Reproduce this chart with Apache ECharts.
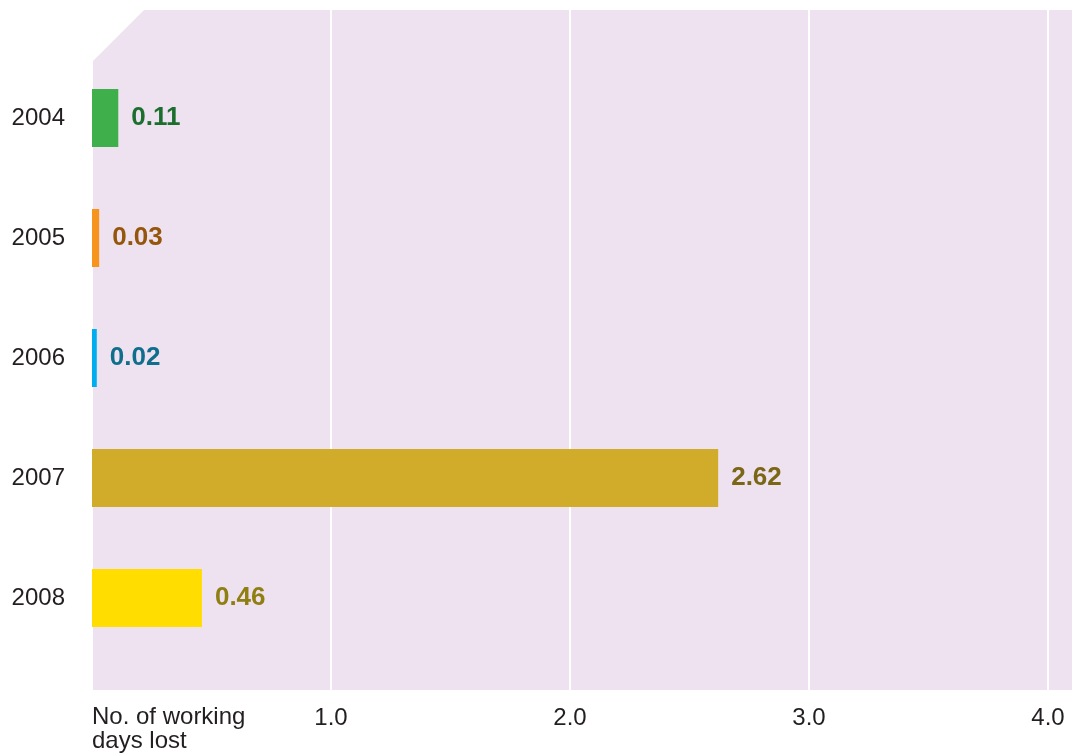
<!DOCTYPE html>
<html>
<head>
<meta charset="utf-8">
<script src="https://cdn.jsdelivr.net/npm/echarts@6/dist/echarts.min.js"></script>
<style>
html,body{margin:0;padding:0;background:#fff;}
#chart{width:1073px;height:756px;}
</style>
</head>
<body>
<div id="chart"></div>
<script>
const years = ['2004', '2005', '2006', '2007', '2008'];
const daysLost = [0.11, 0.03, 0.02, 2.62, 0.46];
const barColors = ['#3EAF4A', '#F7941D', '#00AEEF', '#D1AC2A', '#FFDD00'];
const labelColors = ['#1B6E2E', '#94560B', '#0F6E8C', '#7A6614', '#8F7E10'];
const xTicks = [1, 2, 3, 4];
const axisTitle = 'No. of working\ndays lost';

const textColor = '#231F20';
const fontFam = '"Liberation Sans", Arial, Helvetica, sans-serif';

const chart = echarts.init(document.getElementById('chart'));
chart.setOption({
  animation: false,
  backgroundColor: '#ffffff',
  graphic: [
    {
      type: 'polygon',
      z: -10,
      silent: true,
      shape: { points: [[92, 62], [144, 10], [1072, 10], [1072, 690], [92, 690]] },
      style: { fill: '#EEE2F0' }
    },
    {
      type: 'text',
      left: 92,
      top: 705,
      style: {
        text: axisTitle,
        font: '24px ' + fontFam,
        fill: textColor,
        lineHeight: 24
      }
    }
  ],
  grid: [
    { left: 92, top: 10, width: 956, height: 680, containLabel: false },
    { left: 92, top: 58, width: 956, height: 600, containLabel: false }
  ],
  xAxis: [
    {
      gridIndex: 0,
      type: 'value',
      min: 0,
      max: 4,
      interval: 1,
      axisLine: { show: false },
      axisTick: { show: false },
      splitLine: { show: true, lineStyle: { color: '#ffffff', width: 2 } },
      axisLabel: {
        margin: 16,
        fontSize: 24,
        fontFamily: fontFam,
        color: textColor,
        formatter: function (v) {
          return xTicks.indexOf(v) >= 0 ? v.toFixed(1) : '';
        }
      }
    },
    {
      gridIndex: 1,
      type: 'value',
      min: 0,
      max: 4,
      show: false
    }
  ],
  yAxis: [
    { gridIndex: 0, type: 'value', show: false },
    {
      gridIndex: 1,
      type: 'category',
      inverse: true,
      data: years,
      axisLine: { show: false },
      axisTick: { show: false },
      splitLine: { show: false },
      axisLabel: {
        margin: 27,
        fontSize: 24,
        fontFamily: fontFam,
        color: textColor
      }
    }
  ],
  series: [
    {
      type: 'bar',
      xAxisIndex: 1,
      yAxisIndex: 1,
      barWidth: 58,
      data: daysLost.map(function (v, i) {
        return {
          value: v,
          itemStyle: { color: barColors[i] },
          label: { color: labelColors[i] }
        };
      }),
      label: {
        show: true,
        position: 'right',
        distance: 13,
        fontSize: 26,
        fontWeight: 'bold',
        fontFamily: fontFam,
        formatter: function (p) { return p.value.toFixed(2); }
      }
    }
  ]
});
</script>
</body>
</html>
